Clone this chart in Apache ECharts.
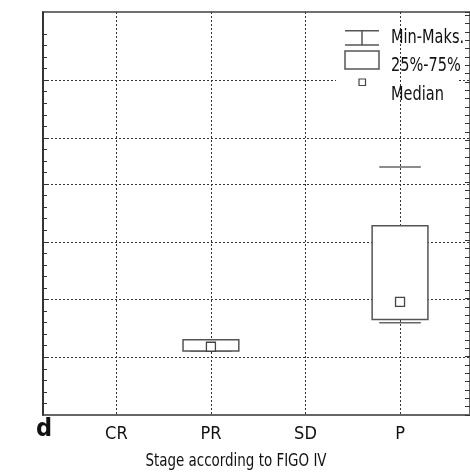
<!DOCTYPE html>
<html><head><meta charset="utf-8">
<script src="https://cdn.jsdelivr.net/npm/echarts@6/dist/echarts.min.js"></script>
<style>html,body{margin:0;padding:0;background:#fff}#c{width:470px;height:475px}</style>
</head><body><div id="c"></div>
<script>
// ---- data (y in arbitrary axis units; axis has no printed values) ----
const categories = ['CR', 'PR', 'SD', 'P'];
const categoryPos = [1, 2, 3, 4];
const minVals = [null, 5.54, null, 7.98];
const q1Vals  = [null, 5.54, null, 8.28];
const medVals = [null, 5.91, null, 9.80];
const q3Vals  = [null, 6.51, null, 16.38];
const maxVals = [null, 6.51, null, 21.48];
const yGridValues = [5, 10, 15, 20, 24, 29];
const yLeftTicks = [1,2,3,4,5,6,7,8,9,10,11,12,13,14,15,16,17,18,19,20,21,22,23,24,25,26,27,28,29,30,31,32,33];
const legendLabels = ['Min-Maks.', '25%-75%', 'Median'];
const xTitle = 'Stage according to FIGO IV';
const panelLetter = 'd';

const FONT = "'DejaVu Sans Condensed', 'Liberation Sans Narrow', sans-serif";

const boxData = [];
categoryPos.forEach((x, i) => {
  if (medVals[i] != null) boxData.push([x, minVals[i], q1Vals[i], medVals[i], q3Vals[i], maxVals[i]]);
});

const chart = echarts.init(document.getElementById('c'), null, {renderer: 'canvas'});
const dotted = {color: '#333', width: 1, type: [2, 2]};

chart.setOption({
  animation: false,
  backgroundColor: '#fff',
  grid: {left: 43, top: 12, width: 429, height: 403, show: true, borderColor: '#707070', borderWidth: 2, backgroundColor: 'transparent'},
  xAxis: {
    type: 'value', min: 0.224, max: 4.74, z: 2,
    axisLine: {show: true, lineStyle: {color: '#666', width: 2}},
    axisTick: {show: false, customValues: categoryPos},
    axisLabel: {show: true, customValues: categoryPos, margin: 10, color: '#111', fontSize: 18, fontFamily: FONT,
      formatter: v => categories[Math.round(v) - 1]},
    splitLine: {show: true, lineStyle: dotted}
  },
  yAxis: [
    {type: 'value', min: 0, max: 34.9, position: 'left', z: 3,
      axisLine: {show: true, lineStyle: {color: '#222', width: 1.5}},
      axisTick: {show: true, inside: true, length: 4, customValues: yLeftTicks, lineStyle: {color: '#333', width: 1}},
      axisLabel: {show: false}, splitLine: {show: false}},
    {type: 'value', min: 0, max: 48.4, interval: 1, position: 'right', z: 3,
      axisLine: {show: true, lineStyle: {color: '#666', width: 2}},
      axisTick: {show: true, inside: true, length: 5, lineStyle: {color: '#333', width: 1}},
      axisLabel: {show: false}, splitLine: {show: false}},
    {type: 'value', min: 0, max: 34.9, position: 'left', z: 0,
      axisLine: {show: false},
      axisTick: {show: false, customValues: yGridValues},
      axisLabel: {show: false},
      splitLine: {show: true, lineStyle: dotted}}
  ],
  series: [{
    type: 'custom', xAxisIndex: 0, yAxisIndex: 0, z: 5,
    data: boxData,
    renderItem: function (params, api) {
      const x = api.value(0);
      const pMin = api.coord([x, api.value(1)]);
      const pQ1 = api.coord([x, api.value(2)]);
      const pMed = api.coord([x, api.value(3)]);
      const pQ3 = api.coord([x, api.value(4)]);
      const pMax = api.coord([x, api.value(5)]);
      const boxW = api.size([0.59, 0])[0];
      const capW = api.size([0.44, 0])[0];
      const ms = 9;
      const capStyle = {stroke: '#666', lineWidth: 1.5, fill: null};
      return {
        type: 'group',
        children: [
          {type: 'line', shape: {x1: pMin[0] - capW / 2, y1: pMin[1], x2: pMin[0] + capW / 2, y2: pMin[1]}, style: capStyle},
          {type: 'line', shape: {x1: pMax[0] - capW / 2, y1: pMax[1], x2: pMax[0] + capW / 2, y2: pMax[1]}, style: capStyle},
          {type: 'rect', shape: {x: pQ3[0] - boxW / 2, y: pQ3[1], width: boxW, height: pQ1[1] - pQ3[1]},
            style: {fill: '#fff', stroke: '#555', lineWidth: 1.5}},
          {type: 'rect', shape: {x: pMed[0] - ms / 2, y: pMed[1] - ms / 2, width: ms, height: ms},
            style: {fill: '#fff', stroke: '#444', lineWidth: 1.3}}
        ]
      };
    }
  }],
  graphic: [
    {type: 'rect', z: 1, silent: true, shape: {x: 336, y: 20, width: 123, height: 86}, style: {fill: '#fff'}},
    {type: 'line', z: 10, shape: {x1: 345, y1: 30.7, x2: 379, y2: 30.7}, style: {stroke: '#555', lineWidth: 1.5}},
    {type: 'line', z: 10, shape: {x1: 362, y1: 30.7, x2: 362, y2: 45}, style: {stroke: '#555', lineWidth: 1.5}},
    {type: 'line', z: 10, shape: {x1: 345, y1: 45, x2: 379, y2: 45}, style: {stroke: '#555', lineWidth: 1.5}},
    {type: 'rect', z: 10, shape: {x: 345, y: 51, width: 34, height: 18}, style: {fill: '#fff', stroke: '#555', lineWidth: 1.5}},
    {type: 'rect', z: 10, shape: {x: 359, y: 79, width: 6.5, height: 6.5}, style: {fill: '#fff', stroke: '#444', lineWidth: 1.2}},
    {type: 'text', z: 10, x: 391, y: 38, scaleX: 0.85, style: {text: legendLabels[0], fill: '#111', font: '19px ' + FONT, textVerticalAlign: 'middle'}},
    {type: 'text', z: 10, x: 391, y: 66.5, scaleX: 0.85, style: {text: legendLabels[1], fill: '#111', font: '19px ' + FONT, textVerticalAlign: 'middle'}},
    {type: 'text', z: 10, x: 391, y: 95, scaleX: 0.85, style: {text: legendLabels[2], fill: '#111', font: '19px ' + FONT, textVerticalAlign: 'middle'}},
    {type: 'text', z: 10, x: 236, y: 461, scaleX: 0.83, style: {text: xTitle, fill: '#111', font: '18px ' + FONT, textAlign: 'center', textVerticalAlign: 'middle'}},
    {type: 'text', z: 10, x: 44, y: 429, style: {text: panelLetter, fill: '#111', font: 'bold 25px ' + FONT, textAlign: 'center', textVerticalAlign: 'middle'}}
  ]
});
</script></body></html>
